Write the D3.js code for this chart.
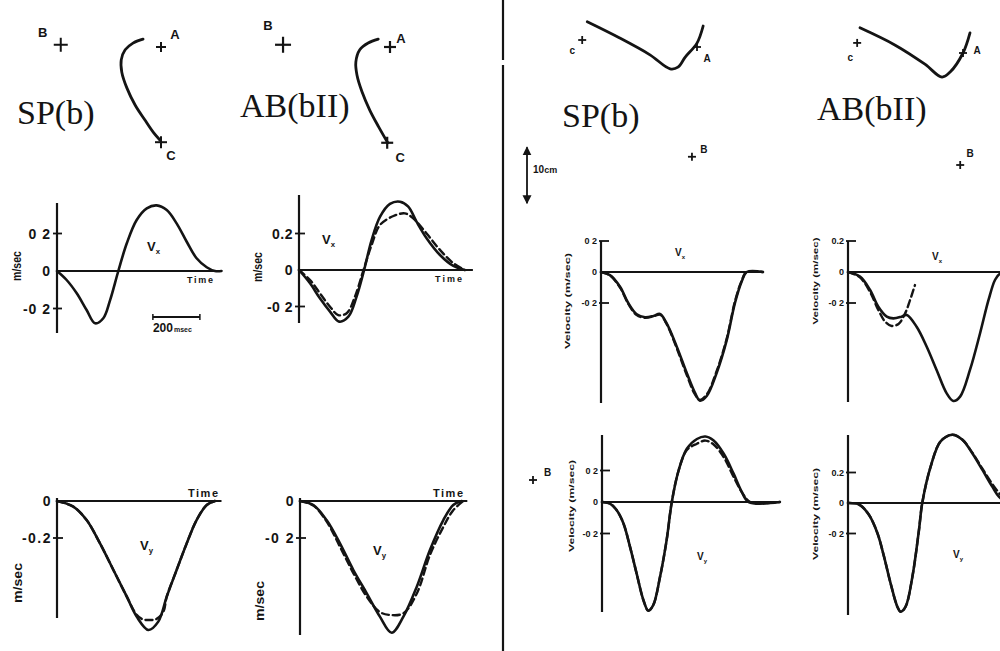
<!DOCTYPE html>
<html><head><meta charset="utf-8">
<script src="https://cdn.jsdelivr.net/npm/d3@7"></script>
<style>body{margin:0;background:#fff}svg{display:block}</style>
</head><body>
<svg id="c" width="1000" height="651"></svg>
<script>
// ---------------- DATA ----------------
// velocity traces: time (ms) and velocity (m/sec)
const spVxLT = [0,41,84,126,162,197,226,261,297,339,382,424,467,509,552,594,637,672,700];
const spVxLSolid = [0,-0.048,-0.119,-0.208,-0.279,-0.252,-0.155,0,0.148,0.272,0.334,0.35,0.325,0.254,0.156,0.068,0.02,0,0];

const abVxLT = [0,47,89,132,171,210,245,277,309,345,387,430,465,500,543,600,657,706];
const abVxLSolid = [0,-0.073,-0.155,-0.228,-0.283,-0.256,-0.146,0,0.164,0.292,0.362,0.374,0.347,0.265,0.174,0.082,0.022,0];
const abVxLDashT = [0,47,89,132,167,203,238,272,309,345,402,451,486,543,600,657,706];
const abVxLDash = [0,-0.055,-0.128,-0.201,-0.247,-0.237,-0.146,-0.01,0.137,0.247,0.296,0.31,0.283,0.2,0.11,0.037,0];

const spVyLT = [0,69,126,183,240,297,339,389,431,467,509,552,594,637,672];
const spVyLSolid = [0,-0.03,-0.103,-0.229,-0.373,-0.517,-0.625,-0.697,-0.652,-0.517,-0.373,-0.229,-0.103,-0.022,0];
const spVyLDashT = [0,69,126,183,240,297,339,365,389,420,452,467,509,552,594,637,672];
const spVyLDash = [0,-0.03,-0.103,-0.229,-0.373,-0.517,-0.615,-0.64,-0.643,-0.64,-0.6,-0.517,-0.373,-0.229,-0.103,-0.022,0];

const abVyLT = [0,57,113,170,227,284,340,390,440,497,553,610,652,688];
const abVyLSolid = [0,-0.022,-0.103,-0.229,-0.373,-0.499,-0.625,-0.712,-0.625,-0.463,-0.265,-0.103,-0.022,0];
const abVyLDashT = [0,57,113,170,227,284,340,383,440,497,553,610,652,695];
const abVyLDash = [0,-0.025,-0.11,-0.247,-0.39,-0.517,-0.6,-0.616,-0.607,-0.5,-0.292,-0.14,-0.05,0];

const spVxRT = [0,38,81,116,152,187,223,251,279,322,365,400,421,450,492,535,570,599,620,689];
const spVxRSolid = [0,-0.02,-0.095,-0.2,-0.273,-0.292,-0.284,-0.271,-0.33,-0.48,-0.652,-0.78,-0.83,-0.8,-0.652,-0.44,-0.2,-0.06,0,0];
const spVxRDash = [0,-0.022,-0.1,-0.205,-0.278,-0.295,-0.286,-0.275,-0.335,-0.49,-0.665,-0.79,-0.825,-0.79,-0.64,-0.43,-0.19,-0.055,0,0];

const abVxRT = [0,51,94,129,165,193,228,250,292,335,377,420,448,477,519,562,598,626,647,670];
const abVxRSolid = [0,-0.03,-0.116,-0.224,-0.288,-0.299,-0.288,-0.277,-0.353,-0.482,-0.632,-0.783,-0.832,-0.804,-0.632,-0.395,-0.18,-0.05,-0.01,0];
const abVxRDashT = [0,51,94,129,158,186,215,243,264,285];
const abVxRDash = [0,-0.035,-0.13,-0.245,-0.32,-0.348,-0.335,-0.267,-0.181,-0.084];

const spVyRT = [0,34,62,91,119,147,176,197,218,247,275,297,326,361,404,440,475,518,560,595,624,757];
const spVyRSolid = [0,-0.01,-0.051,-0.135,-0.283,-0.452,-0.622,-0.69,-0.655,-0.475,-0.242,0,0.2,0.338,0.4,0.416,0.39,0.306,0.18,0.064,0,0];
const spVyRDashT = [0,34,62,91,119,147,176,197,218,247,275,297,326,361,404,440,475,518,560,603,631,757];
const spVyRDash = [0,-0.01,-0.051,-0.135,-0.283,-0.452,-0.622,-0.69,-0.655,-0.475,-0.242,0,0.2,0.33,0.37,0.39,0.365,0.285,0.16,0.043,0,0];

const abVyRT = [0,47,89,125,153,181,210,224,245,274,302,316,352,394,444,487,529,572,614,643,680];
const abVyRSolid = [0,-0.01,-0.077,-0.197,-0.35,-0.525,-0.68,-0.713,-0.68,-0.483,-0.177,0,0.24,0.404,0.448,0.415,0.326,0.217,0.107,0.04,0];
const abVyRDash = [0,-0.01,-0.077,-0.197,-0.35,-0.525,-0.68,-0.713,-0.68,-0.483,-0.177,0,0.24,0.404,0.448,0.415,0.33,0.225,0.125,0.065,0];

// tick values and labels
const tickVals3 = [0.2,0,-0.2];
const tickVals2 = [0,-0.2];
const tickLabSP = ["0 2","0","-0 2"];
const tickLabAB = ["0.2","0","-0 2"];
const tickLabVyL = ["0","-0.2"];
const tickLabVyL2 = ["0","-0 2"];

// hand paths (cm, relative to target A, y up)
const spLPathX = [-3.2,-5.0,-6.4,-7.1,-7.0,-6.1,-4.6,-2.9,-1.4,-0.2];
const spLPathY = [1.4,0.7,-0.5,-2.3,-4.5,-7.3,-10.4,-13.0,-15.2,-16.6];
const abLPathX = [-2.1,-3.9,-5.4,-6.1,-5.9,-5.0,-3.6,-2.0,-0.4];
const abLPathY = [1.4,0.7,-0.5,-2.7,-5.0,-8.0,-11.3,-14.3,-17.1];
const spRPathX = [-19.6,-13.8,-8.4,-4.8,-3.4,-2.1,0,1.1];
const spRPathY = [4.5,1.6,-1.4,-3.9,-3.6,-1.8,0.7,3.75];
const abRPathX = [-18.4,-12.1,-6.8,-3.75,-2.3,0,1.25];
const abRPathY = [4.5,1.4,-2.0,-4.3,-3.4,0,3.6];

const targetNames = ["A","B","C"];
const spLTargX = [0,-17.9,0],   spLTargY = [0,0.4,-17.0];
const abLTargX = [0,-19.1,-0.5], abLTargY = [0,0.4,-17.1];
const spRTargX = [0,-0.9,-20.5], spRTargY = [0,-19.6,1.25];
const abRTargX = [0,-0.5,-18.9], abRTargY = [0,-20,1.8];

const titles = ["SP(b)","AB(bII)","SP(b)","AB(bII)"];

// ---------------- DRAWING ----------------
const svg = d3.select("#c");
svg.append("rect").attr("width",1000).attr("height",651).attr("fill","#fff");
const INK = "#141414";
const SANS = "'Liberation Sans', Arial, sans-serif";
const SERIF = "'Liberation Serif', 'Times New Roman', serif";

const zip = (t,v) => t.map((d,i)=>[d,v[i]]);

function vlabel(g, x, y, sub, size){
  const t = g.append("text").attr("x",x).attr("y",y).attr("font-family",SANS)
    .attr("font-weight","bold").attr("font-size",size).attr("fill",INK);
  t.append("tspan").text("V");
  t.append("tspan").attr("font-size",size*0.6).attr("dy",size*0.25).text(sub);
}

function velPanel(c){
  const pxPerMs = 0.235;
  const x = d3.scaleLinear().domain([0,100]).range([c.x0, c.x0 + 100*pxPerMs]);
  const k = c.px02/0.2;
  const y = d3.scaleLinear().domain([(c.zeroY-c.axBot)/k,(c.zeroY-c.axTop)/k]).range([c.axBot,c.axTop]);
  const g = svg.append("g");
  // vertical axis
  g.append("line").attr("x1",c.x0).attr("x2",c.x0).attr("y1",y.range()[0]).attr("y2",y.range()[1])
    .attr("stroke",INK).attr("stroke-width",2.2);
  // zero line (time axis)
  g.append("line").attr("x1",x(0)).attr("x2",x(c.tEnd)).attr("y1",y(0)).attr("y2",y(0))
    .attr("stroke",INK).attr("stroke-width",2);
  // ticks + labels
  c.ticks.forEach((v,i)=>{
    if(v!==0) g.append("line").attr("x1",c.x0+c.tk[0]).attr("x2",c.x0+c.tk[1]).attr("y1",y(v)).attr("y2",y(v))
      .attr("stroke",INK).attr("stroke-width",1.8);
    g.append("text").attr("x",c.x0-c.lgap).attr("y",y(v)).attr("dy","0.36em").attr("text-anchor","end")
      .attr("font-family",SANS).attr("font-weight","bold").attr("font-size",c.lsize)
      .attr("letter-spacing",c.lsp||0).attr("fill",INK).text(c.labels[i]);
  });
  const line = d3.line().x(d=>x(d[0])).y(d=>y(d[1])).curve(d3.curveCatmullRom.alpha(0.5));
  c.series.forEach(s=>{
    g.append("path").attr("d",line(s.d)).attr("fill","none").attr("stroke",INK)
      .attr("stroke-width",s.dash?2.4:2.6).attr("stroke-dasharray",s.dash?"7,4":null)
      .attr("stroke-linejoin","round").attr("stroke-linecap","round");
  });
  return {g,x,y};
}

// Left panels
const p1 = velPanel({x0:57,zeroY:271,px02:37.5,axTop:203,axBot:333,tEnd:700,ticks:tickVals3,labels:tickLabSP,
  tk:[-4,5],lgap:6,lsize:14,lsp:1,series:[{d:zip(spVxLT,spVxLSolid)}]});
const p2 = velPanel({x0:299,zeroY:270,px02:36.5,axTop:195,axBot:323,tEnd:740,ticks:tickVals3,labels:tickLabAB,
  tk:[-4,6],lgap:6,lsize:14,lsp:0.5,series:[{d:zip(abVxLT,abVxLSolid)},{d:zip(abVxLDashT,abVxLDash),dash:true}]});
const p3 = velPanel({x0:57,zeroY:501,px02:37,axTop:498,axBot:618,tEnd:700,ticks:tickVals2,labels:tickLabVyL,
  tk:[-4,6],lgap:5,lsize:14,lsp:1.5,series:[{d:zip(spVyLT,spVyLSolid)},{d:zip(spVyLDashT,spVyLDash),dash:true}]});
const p4 = velPanel({x0:300,zeroY:501,px02:37,axTop:498,axBot:635,tEnd:712,ticks:tickVals2,labels:tickLabVyL2,
  tk:[-4,6],lgap:5,lsize:14,lsp:1.5,series:[{d:zip(abVyLT,abVyLSolid)},{d:zip(abVyLDashT,abVyLDash),dash:true}]});
// Right panels
const p5 = velPanel({x0:601,zeroY:272,px02:31,axTop:241,axBot:403,tEnd:689,ticks:tickVals3,labels:tickLabSP,
  tk:[-2,8],lgap:4,lsize:9,series:[{d:zip(spVxRT,spVxRSolid)},{d:zip(spVxRT,spVxRDash),dash:true}]});
const p6 = velPanel({x0:848,zeroY:272,px02:31,axTop:241,axBot:402,tEnd:700,ticks:tickVals3,labels:tickLabAB,
  tk:[-2,8],lgap:4,lsize:9,series:[{d:zip(abVxRT,abVxRSolid)},{d:zip(abVxRDashT,abVxRDash),dash:true}]});
const p7 = velPanel({x0:602,zeroY:502,px02:31.5,axTop:435,axBot:612,tEnd:757,ticks:tickVals3,labels:tickLabSP,
  tk:[-2,8],lgap:4,lsize:9,series:[{d:zip(spVyRT,spVyRSolid)},{d:zip(spVyRDashT,spVyRDash),dash:true}]});
const p8 = velPanel({x0:848,zeroY:503,px02:30.5,axTop:435,axBot:615,tEnd:700,ticks:tickVals3,labels:tickLabAB,
  tk:[-2,8],lgap:4,lsize:9,series:[{d:zip(abVyRT,abVyRSolid)},{d:zip(abVyRT,abVyRDash),dash:true}]});

// axis titles left
function rotText(x,y,txt,size,len){
  const t = svg.append("text").attr("transform",`translate(${x},${y}) rotate(-90)`).attr("text-anchor","middle")
    .attr("dy","0.35em").attr("font-family",SANS).attr("font-weight","bold").attr("font-size",size).attr("fill",INK).text(txt);
  if(len) t.attr("textLength",len).attr("lengthAdjust","spacingAndGlyphs");
}
rotText(17,266,"m/sec",12,30);
rotText(258,267,"m/sec",12,30);
rotText(17,583,"m/sec",13,40);
rotText(259,601,"m/sec",13,40);
rotText(567,301,"Velocity (m/sec)",8,96);
rotText(815,281,"Velocity (m/sec)",8,87);
rotText(571,506,"Velocity (m/sec)",8,92);
rotText(815,514,"Velocity (m/sec)",8,92);

function txt(x,y,s,size,w){
  return svg.append("text").attr("x",x).attr("y",y).attr("font-family",SANS).attr("font-weight",w||"bold")
    .attr("font-size",size).attr("fill",INK).text(s);
}
txt(187,283,"Time",9).attr("textLength",26);
txt(435,282,"Time",9).attr("textLength",27);
txt(188,497,"Time",11).attr("textLength",30);
txt(433,497,"Time",11).attr("textLength",30);

vlabel(svg,147,251,"x",13);
vlabel(svg,322,244,"x",13);
vlabel(svg,140,550,"y",13);
vlabel(svg,373,555,"y",13);
vlabel(svg,675,256,"x",10);
vlabel(svg,932,260,"x",10);
vlabel(svg,697,560,"y",10);
vlabel(svg,953,558,"y",10);

// 200 msec bar using panel-1 time scale
{
  const bx0 = p1.x(408), bx1 = p1.x(608), by = 317;
  svg.append("line").attr("x1",bx0).attr("x2",bx1).attr("y1",by).attr("y2",by).attr("stroke",INK).attr("stroke-width",1.8);
  [bx0,bx1].forEach(xx=>svg.append("line").attr("x1",xx).attr("x2",xx).attr("y1",by-3).attr("y2",by+3).attr("stroke",INK).attr("stroke-width",1.5));
  const t = svg.append("text").attr("x",bx0).attr("y",332).attr("font-family",SANS).attr("font-weight","bold").attr("fill",INK);
  t.append("tspan").attr("font-size",12).text("200");
  t.append("tspan").attr("font-size",7).attr("dx",1).text("msec");
}

// ---------------- PATH PANELS ----------------
function plus(x,y,r,w){
  svg.append("line").attr("x1",x-r).attr("x2",x+r).attr("y1",y).attr("y2",y).attr("stroke",INK).attr("stroke-width",w);
  svg.append("line").attr("x1",x).attr("x2",x).attr("y1",y-r).attr("y2",y+r).attr("stroke",INK).attr("stroke-width",w);
}
function pathPanel(c){
  const s = 5.6;
  const x = d3.scaleLinear().domain([0,1]).range([c.ax, c.ax+s]);
  const y = d3.scaleLinear().domain([0,1]).range([c.ay, c.ay-s]);
  const line = d3.line().x(d=>x(d[0])).y(d=>y(d[1])).curve(d3.curveCatmullRom.alpha(0.5));
  svg.append("path").attr("d",line(zip(c.px,c.py))).attr("fill","none").attr("stroke",INK)
    .attr("stroke-width",2.8).attr("stroke-linecap","round").attr("stroke-linejoin","round");
  targetNames.forEach((n,i)=>{
    const tx = x(c.tx[i]), ty = y(c.ty[i]);
    plus(tx,ty,c.pr[i],c.pw);
    svg.append("text").attr("x",tx+c.off[i][0]).attr("y",ty+c.off[i][1]).attr("text-anchor","middle").attr("dy","0.36em")
      .attr("font-family",SANS).attr("font-weight","bold").attr("font-size",c.ls).attr("fill",INK)
      .text(c.lower && n==="C" ? "c" : n);
  });
  svg.append("text").attr("x",c.titleX).attr("y",c.titleY).attr("font-family",SERIF).attr("font-size",34)
    .attr("fill",INK).text(c.title);
  return {x,y};
}
pathPanel({ax:161,ay:47,px:spLPathX,py:spLPathY,tx:spLTargX,ty:spLTargY,pr:[5,7,6],pw:2,ls:13,
  off:[[14,-13],[-18,-12],[10,13]],titleX:17,titleY:124,title:titles[0]});
pathPanel({ax:390,ay:47,px:abLPathX,py:abLPathY,tx:abLTargX,ty:abLTargY,pr:[6,8,6],pw:2.2,ls:13,
  off:[[11,-9],[-15,-19],[13,15]],titleX:240,titleY:117,title:titles[1]});
const rp = pathPanel({ax:697,ay:47,px:spRPathX,py:spRPathY,tx:spRTargX,ty:spRTargY,pr:[4,4,4],pw:1.8,ls:10,lower:true,
  off:[[10,11],[12,-7],[-10,10]],titleX:562,titleY:127,title:titles[2]});
pathPanel({ax:963,ay:53,px:abRPathX,py:abRPathY,tx:abRTargX,ty:abRTargY,pr:[4,4,4],pw:1.8,ls:10,lower:true,
  off:[[14,-3],[10,-12],[-7,14]],titleX:817,titleY:120,title:titles[3]});

// 10 cm scale bar (uses cm scale of right panel)
{
  const bx = 527, yTop = rp.y(-17.9), yBot = rp.y(-27.9);
  svg.append("defs").append("marker").attr("id","ah").attr("viewBox","0 0 10 10").attr("refX",9).attr("refY",5)
    .attr("markerWidth",5).attr("markerHeight",6).attr("orient","auto-start-reverse")
    .append("path").attr("d","M0,0L10,5L0,10z").attr("fill",INK);
  svg.append("line").attr("x1",bx).attr("x2",bx).attr("y1",yTop).attr("y2",yBot).attr("stroke",INK).attr("stroke-width",1.8)
    .attr("marker-start","url(#ah)").attr("marker-end","url(#ah)");
  const t = svg.append("text").attr("x",533).attr("y",173).attr("font-family",SANS).attr("font-weight","bold").attr("fill",INK);
  t.append("tspan").attr("font-size",10).text("10");
  t.append("tspan").attr("font-size",9).text("cm");
}

// stray "+B" marker near lower right panel
plus(533,480,4,1.8);
txt(544,476,"B",10);

// divider
svg.append("line").attr("x1",503).attr("x2",503).attr("y1",0).attr("y2",60).attr("stroke",INK).attr("stroke-width",2.2);
svg.append("line").attr("x1",503).attr("x2",503).attr("y1",65).attr("y2",651).attr("stroke",INK).attr("stroke-width",2.2);
</script>
</body></html>
